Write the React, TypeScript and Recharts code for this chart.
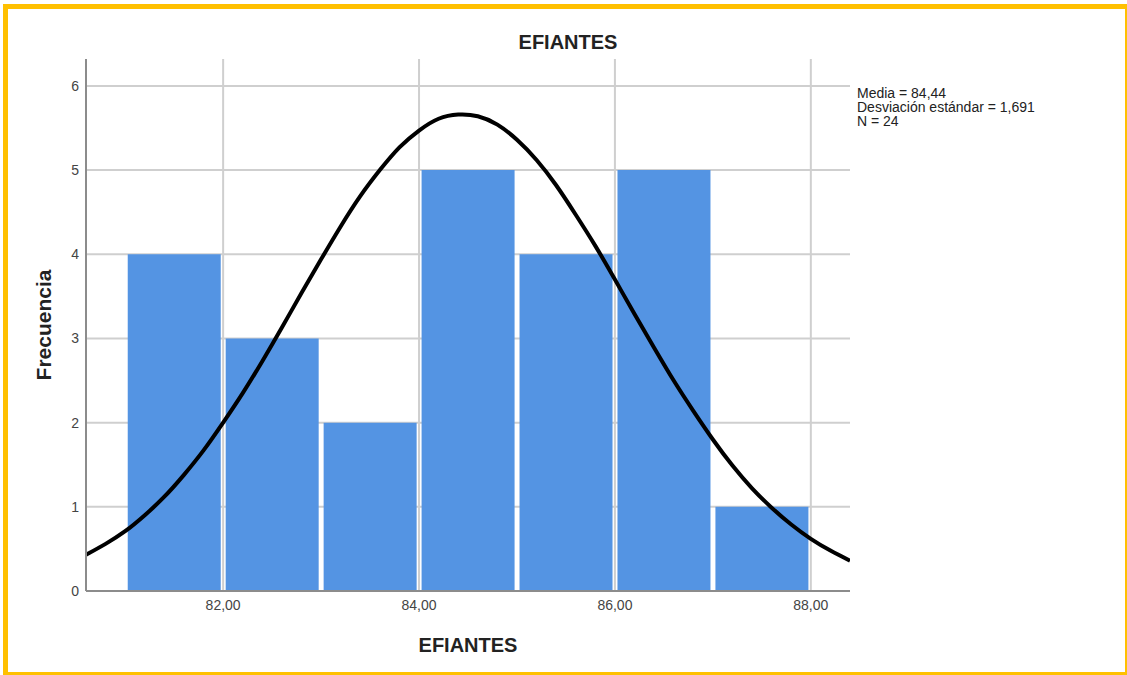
import React from "react";
import {
  ComposedChart,
  Bar,
  Line,
  XAxis,
  YAxis,
  CartesianGrid,
  Rectangle,
  Label,
} from "recharts";

const binCenters = [81.5, 82.5, 83.5, 84.5, 85.5, 86.5, 87.5];
const frequencies = [4, 3, 2, 5, 4, 5, 1];

// normal curve
const curveX = [
  80.6, 80.8, 81.0, 81.2, 81.4, 81.6, 81.8, 82.0, 82.2, 82.4, 82.6, 82.8, 83.0,
  83.2, 83.4, 83.6, 83.8, 84.0, 84.2, 84.4, 84.6, 84.8, 85.0, 85.2, 85.4, 85.6,
  85.8, 86.0, 86.2, 86.4, 86.6, 86.8, 87.0, 87.2, 87.4, 87.6, 87.8, 88.0, 88.2,
  88.4,
];
const curveY = [
  0.43, 0.56, 0.71, 0.9, 1.12, 1.38, 1.67, 2.0, 2.35, 2.73, 3.13, 3.54, 3.94,
  4.33, 4.69, 5.0, 5.27, 5.47, 5.61, 5.66, 5.64, 5.54, 5.36, 5.12, 4.82, 4.47,
  4.1, 3.7, 3.29, 2.89, 2.5, 2.14, 1.8, 1.49, 1.22, 0.99, 0.79, 0.62, 0.48,
  0.36,
];

const xTicks = [82, 84, 86, 88];
const yTicks = [0, 1, 2, 3, 4, 5, 6];
const statLines = ["Media = 84,44", "Desviación estándar = 1,691", "N = 24"];

const title = "EFIANTES";
const xLabel = "EFIANTES";
const yLabel = "Frecuencia";

const bins = binCenters.map((x, i) => ({ x, count: frequencies[i] }));
const curve = curveX.map((x, i) => ({ x, curve: curveY[i] }));

const fmt = (v: number) => v.toFixed(2).replace(".", ",");

const font = "Arial, 'Liberation Sans', sans-serif";
const gridColor = "#cfcfcf";
const barWidth = 93;
const W = 1127;
const H = 675;
const margin = { top: 59, right: 277, bottom: 14, left: 20 };

// bars are centred where recharts puts them, widened to the bin width
const BinBar = (props: any) => {
  const cx = props.x + props.width / 2;
  return (
    <Rectangle
      x={cx - barWidth / 2}
      y={props.y}
      width={barWidth}
      height={props.height}
      fill={props.fill}
    />
  );
};

// grid without the frame lines at the top and right edge of the plot
const hLine = (p: any) =>
  Math.abs(p.y1 - margin.top) < 1 ? (
    <g key={p.key} />
  ) : (
    <line key={p.key} x1={p.x1} y1={p.y1} x2={p.x2} y2={p.y2} stroke={gridColor} strokeWidth={2} />
  );
const vLine = (p: any) =>
  p.x1 > W - margin.right - 1 ? (
    <g key={p.key} />
  ) : (
    <line key={p.key} x1={p.x1} y1={p.y1} x2={p.x2} y2={p.y2} stroke={gridColor} strokeWidth={2} />
  );

export default function App() {
  return (
    <div
      style={{
        position: "absolute",
        left: 0,
        top: 0,
        width: W,
        height: H,
        overflow: "hidden",
        background: "#fff",
        fontFamily: font,
      }}
    >
      <div
        style={{
          position: "absolute",
          left: 3,
          top: 4,
          width: 1127,
          height: 673,
          boxSizing: "border-box",
          border: "5px solid #FFC000",
        }}
      />
      <div
        style={{
          position: "absolute",
          left: 0,
          width: 1136,
          top: 31,
          textAlign: "center",
          fontSize: 20,
          fontWeight: "bold",
          color: "#222",
        }}
      >
        {title}
      </div>
      <div
        style={{
          position: "absolute",
          left: 857,
          top: 86,
          fontSize: 14,
          lineHeight: "14px",
          color: "#222",
        }}
      >
        {statLines.map((s) => (
          <div key={s}>{s}</div>
        ))}
      </div>
      <div style={{ position: "absolute", left: 0, top: 0 }}>
        <ComposedChart width={W} height={H} data={bins} margin={margin}>
          <CartesianGrid
            stroke={gridColor}
            strokeWidth={2}
            horizontal={hLine}
            vertical={vLine}
          />
          <XAxis
            dataKey="x"
            type="number"
            domain={[80.6, 88.4]}
            allowDataOverflow
            ticks={xTicks}
            tickFormatter={fmt}
            tickLine={false}
            tickSize={0}
            tickMargin={9}
            height={70}
            stroke="#8c8c8c"
            strokeWidth={2}
            tick={{ fill: "#444", fontSize: 14, fontFamily: font }}
          >
            <Label
              value={xLabel}
              position="insideBottom"
              offset={9}
              style={{
                fontSize: 20,
                fontWeight: "bold",
                fill: "#222",
                fontFamily: font,
              }}
            />
          </XAxis>
          <YAxis
            type="number"
            domain={[0, 6.32]}
            allowDataOverflow
            ticks={yTicks}
            tickLine={false}
            tickSize={0}
            tickMargin={7}
            width={66}
            stroke="#8c8c8c"
            strokeWidth={2}
            tick={{ fill: "#444", fontSize: 14, fontFamily: font }}
          >
            <Label
              value={yLabel}
              angle={-90}
              position="insideLeft"
              offset={24}
              style={{
                fontSize: 21,
                fontWeight: "bold",
                fill: "#222",
                fontFamily: font,
                textAnchor: "middle",
              }}
            />
          </YAxis>
          <Bar
            dataKey="count"
            fill="#5494e3"
            shape={BinBar}
            isAnimationActive={false}
          />
          <Line
            data={curve}
            dataKey="curve"
            type="natural"
            stroke="#000"
            strokeWidth={4}
            dot={false}
            isAnimationActive={false}
          />
        </ComposedChart>
      </div>
    </div>
  );
}
